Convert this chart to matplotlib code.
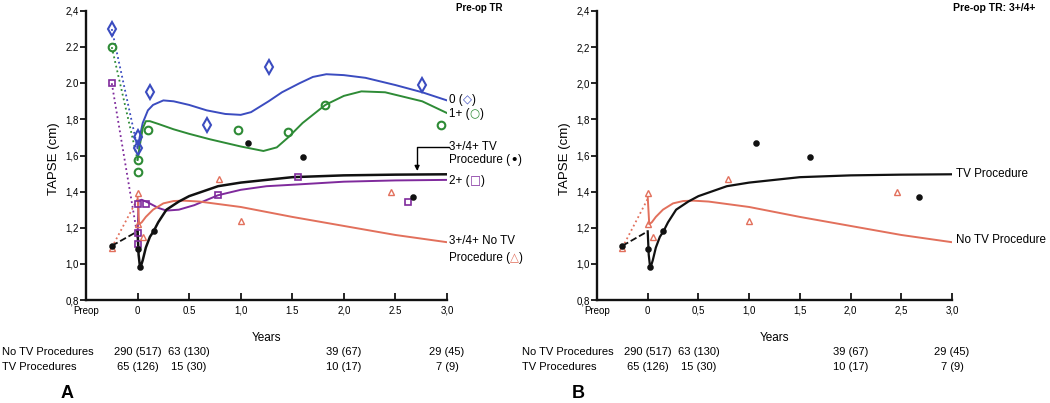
import matplotlib
matplotlib.use('Agg')
import matplotlib.pyplot as plt
from matplotlib.offsetbox import TextArea, HPacker, AnnotationBbox
from matplotlib.transforms import blended_transform_factory

FONT = ['Liberation Sans', 'DejaVu Sans']
SYM = ['DejaVu Sans']
plt.rcParams['font.family'] = FONT

# ---------------- data ----------------
PREOP = -0.25
xticks = [-0.5, 0, 0.5, 1.0, 1.5, 2.0, 2.5, 3.0]
xlabels_a = ['Preop', '0', '0.5', '1,0', '1.5', '2,0', '2.5', '3,0']
xlabels_b = ['Preop', '0', '0,5', '1,0', '1,5', '2,0', '2,5', '3,0']
yticks = [0.8, 1.0, 1.2, 1.4, 1.6, 1.8, 2.0, 2.2, 2.4]
ylabels_a = ['0,8', '1,0', '1,2', '1,4', '1,6', '1,8', '2.0', '2.2', '2,4']
ylabels_b = ['0,8', '1,0', '1,2', '1,4', '1,6', '1,8', '2,0', '2,2', '2,4']

# observed points
tr0_x = [PREOP, 0, 0, 0.12, 0.67, 1.27, 2.76]
tr0_y = [2.30, 1.70, 1.64, 1.95, 1.77, 2.09, 1.99]
tr1_x = [PREOP, 0, 0, 0.10, 0.97, 1.46, 1.82, 2.94]
tr1_y = [2.20, 1.575, 1.51, 1.74, 1.74, 1.73, 1.88, 1.77]
tr2_x = [PREOP, 0, 0, 0, 0.08, 0.78, 1.56, 2.62]
tr2_y = [2.00, 1.33, 1.17, 1.11, 1.33, 1.38, 1.48, 1.34]
tv_x = [PREOP, 0, 0.02, 0.155, 1.07, 1.60, 2.67]
tv_y = [1.10, 1.08, 0.985, 1.18, 1.67, 1.59, 1.37]
notv_x = [PREOP, 0, 0, 0.05, 0.79, 1.00, 2.46]
notv_y = [1.09, 1.395, 1.22, 1.15, 1.47, 1.24, 1.40]

# preop -> early connecting segments (y at preop, y at 0)
tr0_link = [2.30, 1.64]
tr1_link = [2.20, 1.575]
tr2_link = [2.00, 1.15]
tv_link = [1.10, 1.18]
notv_link = [1.09, 1.36]

# fitted curves
tr0_cx = [0.0, 0.02, 0.05, 0.10, 0.15, 0.25, 0.35, 0.50, 0.67, 0.85, 1.00, 1.10, 1.27, 1.40, 1.57, 1.70, 1.83, 2.00, 2.21, 2.50, 2.76, 3.00]
tr0_cy = [1.64, 1.70, 1.78, 1.85, 1.88, 1.905, 1.90, 1.88, 1.85, 1.83, 1.825, 1.84, 1.90, 1.95, 2.00, 2.035, 2.05, 2.045, 2.03, 1.99, 1.95, 1.905]
tr1_cx = [0.0, 0.02, 0.05, 0.08, 0.12, 0.20, 0.35, 0.50, 0.70, 1.00, 1.22, 1.35, 1.46, 1.60, 1.82, 2.00, 2.17, 2.40, 2.76, 3.00]
tr1_cy = [1.575, 1.65, 1.75, 1.79, 1.79, 1.775, 1.745, 1.72, 1.69, 1.65, 1.625, 1.645, 1.70, 1.78, 1.88, 1.93, 1.955, 1.95, 1.90, 1.835]
tr2_cx = [0.0, 0.01, 0.04, 0.10, 0.20, 0.28, 0.40, 0.55, 0.78, 1.00, 1.25, 1.56, 2.00, 2.50, 3.00]
tr2_cy = [1.15, 1.35, 1.355, 1.34, 1.31, 1.295, 1.30, 1.325, 1.38, 1.41, 1.43, 1.44, 1.455, 1.462, 1.465]
tv_cx = [0.0, 0.01, 0.025, 0.05, 0.08, 0.12, 0.155, 0.20, 0.28, 0.40, 0.50, 0.78, 1.00, 1.50, 2.00, 2.50, 3.00]
tv_cy = [1.18, 1.05, 0.975, 1.02, 1.09, 1.15, 1.18, 1.23, 1.30, 1.345, 1.375, 1.43, 1.45, 1.48, 1.49, 1.494, 1.496]
notv_cx = [0.0, 0.015, 0.04, 0.08, 0.15, 0.25, 0.35, 0.45, 0.60, 0.80, 1.00, 1.50, 2.00, 2.50, 3.00]
notv_cy = [1.37, 1.22, 1.23, 1.26, 1.30, 1.335, 1.348, 1.35, 1.345, 1.33, 1.315, 1.26, 1.21, 1.16, 1.12]

# at-risk table
table_x = [0, 0.5, 2.0, 3.0]
row_names = ['No TV Procedures', 'TV Procedures']
no_tv_counts = ['290 (517)', '63 (130)', '39 (67)', '29 (45)']
tv_counts = ['65 (126)', '15 (30)', '10 (17)', '7 (9)']

C_BLUE = '#3b4cc0'
C_GREEN = '#2e8b36'
C_PURPLE = '#7f2a9c'
C_RED = '#e2705c'
C_BLACK = '#111111'

fig = plt.figure(figsize=(10.5, 4.03), dpi=100)
W, H = 1050, 403
axA = fig.add_axes([86 / W, 1 - 300 / H, 361 / W, 289 / H])
axB = fig.add_axes([597 / W, 1 - 300 / H, 355 / W, 289 / H])


def style(ax, xl, yl):
    ax.set_xlim(-0.5, 3.0)
    ax.set_ylim(0.8, 2.4)
    for s in ['top', 'right']:
        ax.spines[s].set_visible(False)
    for s in ['left', 'bottom']:
        ax.spines[s].set_linewidth(1.7)
        ax.spines[s].set_color('#111111')
    ax.set_xticks(xticks)
    ax.set_xticklabels(xl)
    ax.set_yticks(yticks)
    ax.set_yticklabels(yl)
    ax.tick_params(axis='x', direction='in', length=5, width=1.2, labelsize=7, pad=4)
    ax.tick_params(axis='y', direction='out', length=4, width=1.2, labelsize=7, pad=1)
    ax.set_xlabel('Years', fontsize=8.5)
    ax.set_ylabel('TAPSE (cm)', fontsize=9.5)
    ax.xaxis.set_label_coords(0.5, -32 / 289, transform=ax.transAxes)
    ax.yaxis.set_label_coords(-26 / 361, 0.49, transform=ax.transAxes)


def link(ax, ys, color, ls):
    ax.plot([PREOP, 0], ys, ls=ls, color=color, lw=1.3)


def pts(ax, x, y, marker, color, ms, filled=False, mew=1.2):
    ax.plot(x, y, ls='none', marker=marker, ms=ms, mew=mew, mec=color,
            mfc=color if filled else 'none', clip_on=False, zorder=4)


# ---------------- panel A ----------------
style(axA, xlabels_a, ylabels_a)
link(axA, tr0_link, C_BLUE, ':')
link(axA, tr1_link, C_GREEN, ':')
link(axA, tr2_link, C_PURPLE, ':')
link(axA, notv_link, C_RED, ':')
link(axA, tv_link, C_BLACK, '--')
axA.plot(tr0_cx, tr0_cy, color=C_BLUE, lw=1.4)
axA.plot(tr1_cx, tr1_cy, color=C_GREEN, lw=1.4)
axA.plot(tr2_cx, tr2_cy, color=C_PURPLE, lw=1.4)
axA.plot(notv_cx, notv_cy, color=C_RED, lw=1.4)
axA.plot(tv_cx, tv_cy, color=C_BLACK, lw=1.8)
pts(axA, tr0_x, tr0_y, 'd', C_BLUE, 7, mew=1.5)
pts(axA, tr1_x, tr1_y, 'o', C_GREEN, 5.5, mew=1.5)
pts(axA, tr2_x, tr2_y, 's', C_PURPLE, 4.5, mew=1.2)
pts(axA, notv_x, notv_y, '^', C_RED, 5, mew=1.0)
pts(axA, tv_x, tv_y, 'o', C_BLACK, 3.5, filled=True)


def label(ax, x, y, parts, fs=8.4):
    children = []
    for txt, col, fam in parts:
        is_sym = fam is SYM
        children.append(TextArea(txt, textprops=dict(color=col, fontsize=fs, family=fam,
                                                      fontweight='bold' if is_sym else 'normal')))
    box = HPacker(children=children, pad=0, sep=0, align='center')
    ab = AnnotationBbox(box, (x, y), xycoords='data', box_alignment=(0, 0.5),
                        frameon=False, pad=0, annotation_clip=False)
    ax.add_artist(ab)


label(axA, 3.02, 1.905, [('0 (', 'black', FONT), ('◇', C_BLUE, SYM), (')', 'black', FONT)])
label(axA, 3.02, 1.83, [('1+ (', 'black', FONT), ('○', C_GREEN, SYM), (')', 'black', FONT)])
label(axA, 3.02, 1.645, [('3+/4+ TV', 'black', FONT)])
label(axA, 3.02, 1.575, [('Procedure (', 'black', FONT), ('•', 'black', SYM), (')', 'black', FONT)])
label(axA, 3.02, 1.46, [('2+ (', 'black', FONT), ('□', C_PURPLE, SYM), (')', 'black', FONT)])
label(axA, 3.02, 1.127, [('3+/4+ No TV', 'black', FONT)])
label(axA, 3.02, 1.035, [('Procedure (', 'black', FONT), ('△', C_RED, SYM), (')', 'black', FONT)])
axA.annotate('', xy=(2.71, 1.515), xytext=(3.02, 1.645), xycoords='data',
             arrowprops=dict(arrowstyle='-|>', connectionstyle='angle,angleA=0,angleB=90,rad=0',
                             color='black', lw=1.0, shrinkA=0, shrinkB=0,
                             mutation_scale=7), annotation_clip=False)

# ---------------- panel B ----------------
style(axB, xlabels_b, ylabels_b)
link(axB, notv_link, C_RED, ':')
link(axB, tv_link, C_BLACK, '--')
axB.plot(notv_cx, notv_cy, color=C_RED, lw=1.4)
axB.plot(tv_cx, tv_cy, color=C_BLACK, lw=1.6)
pts(axB, notv_x, notv_y, '^', C_RED, 5, mew=1.0)
pts(axB, tv_x, tv_y, 'o', C_BLACK, 3.5, filled=True)
label(axB, 3.04, 1.498, [('TV Procedure', 'black', FONT)])
label(axB, 3.04, 1.133, [('No TV Procedure', 'black', FONT)])

# titles
fig.text(502 / W, 1 - 8 / H, 'Pre-op TR', ha='right', va='center', fontsize=7, fontweight='bold')
fig.text(1035 / W, 1 - 8 / H, 'Pre-op TR: 3+/4+', ha='right', va='center', fontsize=7.5, fontweight='bold')

# at-risk tables
for ax, x0 in [(axA, 2), (axB, 522)]:
    tr = blended_transform_factory(ax.transData, fig.transFigure)
    for row, (name, counts) in enumerate(zip(row_names, [no_tv_counts, tv_counts])):
        yy = 1 - (352 + 15 * row) / H
        fig.text(x0 / W, yy, name, ha='left', va='center', fontsize=8)
        for xv, c in zip(table_x, counts):
            ax.text(xv, yy, c, transform=tr, ha='center', va='center', fontsize=8)

fig.text(67 / W, 1 - 394 / H, 'A', ha='center', va='center', fontsize=13, fontweight='bold')
fig.text(578 / W, 1 - 394 / H, 'B', ha='center', va='center', fontsize=13, fontweight='bold')

fig.savefig('out.png', dpi=100)
